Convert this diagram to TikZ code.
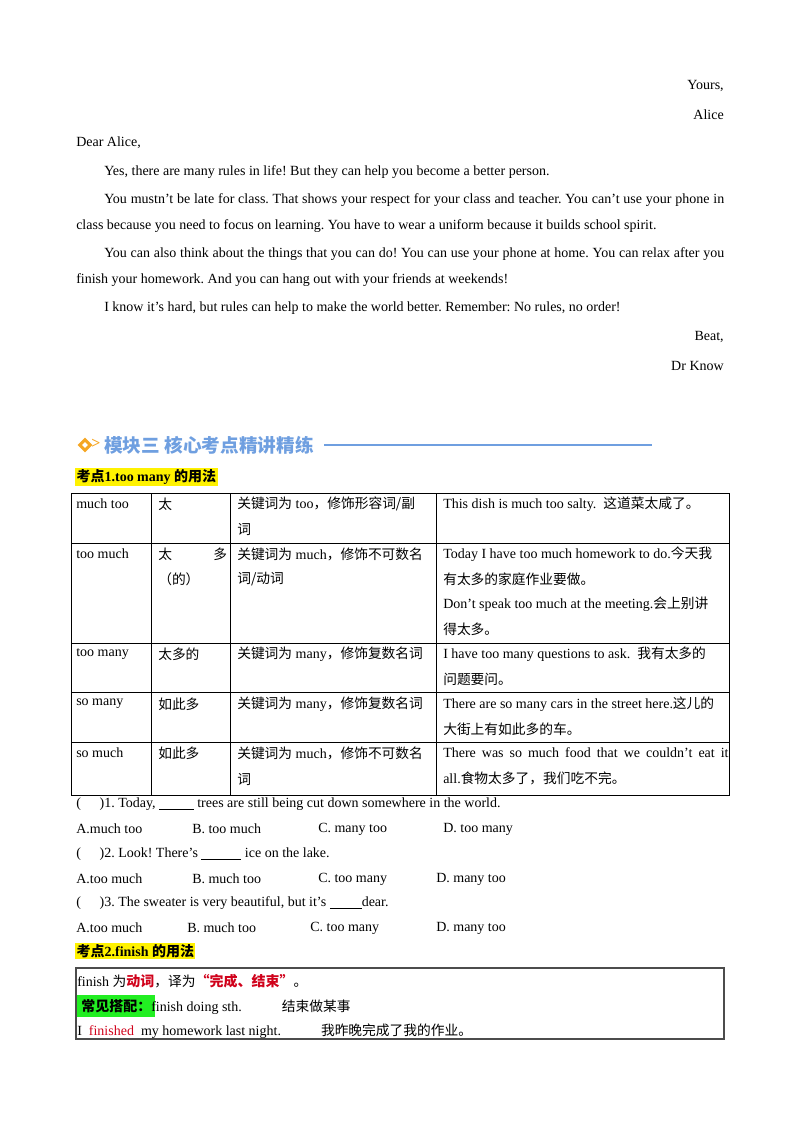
\documentclass[tikz,border=0pt]{standalone}
\usepackage{fontspec}
\usetikzlibrary{shapes.geometric}
\setmainfont{Liberation Serif}
\newfontfamily\cjk{Noto Sans CJK SC}
\newcommand{\C}[1]{{\cjk\fontsize{10.3pt}{11pt}\selectfont #1}}
\definecolor{hblue}{HTML}{6F9FE0}
\definecolor{horange}{HTML}{F5A623}
\definecolor{hred}{HTML}{D0021B}
\definecolor{hgreen}{HTML}{22EE22}
\frenchspacing
\begin{document}
\begin{tikzpicture}[x=0.75pt,y=-0.75pt,
  t/.style={anchor=west,inner sep=0pt,font=\fontsize{10.5pt}{12pt}\selectfont},
  te/.style={anchor=east,inner sep=0pt,font=\fontsize{10.5pt}{12pt}\selectfont},
  tc/.style={anchor=west,inner sep=0pt,font=\fontsize{10.5pt}{12pt}\selectfont},
  grid/.style={draw=black,line width=0.6pt},
  hl/.style={fill=yellow,inner sep=1pt,anchor=west,font=\fontsize{10.5pt}{12pt}\selectfont\bfseries}]
\useasboundingbox (0,0) rectangle (800,1132);
% letter
\node[te] (y1) at (724,86) {Yours,};
\node[te] (y2) at (724,115) {Alice};
\node[t] (d1) at (76,143) {Dear Alice,};
\node[t] (p1) at (104,172) {Yes, there are many rules in life! But they can help you become a better person.};
\node[t,text width=486pt,align=justify] (p2) at (76,213.5) {\baselineskip=19.5pt\frenchspacing\hspace*{21pt}You mustn’t be late for class. That shows your respect for your class and teacher. You can’t use your phone in class because you need to focus on learning. You have to wear a uniform because it builds school spirit.\par};
\node[t,text width=486pt,align=justify] (p3) at (76,267.5) {\baselineskip=19.5pt\frenchspacing\hspace*{21pt}You can also think about the things that you can do! You can use your phone at home. You can relax after you finish your homework. And you can hang out with your friends at weekends!\par};
\node[t] (p4) at (104,308) {I know it’s hard, but rules can help to make the world better. Remember: No rules, no order!};
\node[te] (b1) at (724,337) {Beat,};
\node[te] (b2) at (724,366) {Dr Know};
% header
\node[diamond,draw=horange,line width=2.2pt,inner sep=2.2pt] (dia) at (85,445) {};
\node[anchor=west,inner sep=0,text=horange,font=\fontsize{12pt}{12pt}\selectfont\bfseries] (chev) at (91,444) {\textgreater};
\node[anchor=west,inner sep=0,text=hblue,font=\cjk\bfseries\fontsize{14pt}{15pt}\selectfont] (ht) at (104,445) {模块三 核心考点精讲精练};
\coordinate (le) at (652,445);
\draw[hblue,line width=0.9pt] (ht.east)+(10,0) -- (le);
\node[hl] (k1) at (75,477) {\cjk 考点\rmfamily 1.too many \cjk 的用法};
% table
\draw[grid] (71,493) rectangle (729,795);
\foreach \yy in {543,643,692,742} \draw[grid] (71,\yy) -- (729,\yy);
\foreach \xx in {151,230,436} \draw[grid] (\xx,493) -- (\xx,795);
\node[tc] (r1a) at (76,504) {much too};
\node[tc] (r1b) at (158,504) {\C{太}};
\node[tc] (r1c) at (237,504) {\C{关键词为} too\C{，修饰形容词/副}};
\node[tc] (r1c2) at (237,529) {\C{词}};
\node[tc] (r1d) at (443,504) {This dish is much too salty.\ \ \C{这道菜太咸了。}};
\node[tc] (r2a) at (76,554) {too much};
\node[tc] (r2b) at (158,554) {\C{太}};
\node[tc] (r2b2) at (213,554) {\C{多}};
\node[tc] (r2b3) at (158,579) {\C{（的）}};
\node[tc] (r2c) at (237,554) {\C{关键词为} much\C{，修饰不可数名}};
\node[tc] (r2c2) at (237,579) {\C{词/动词}};
\node[tc] (r2d) at (443,554) {Today I have too much homework to do.\C{今天我}};
\node[tc] (r2d2) at (443,579) {\C{有太多的家庭作业要做。}};
\node[tc] (r2d3) at (443,604) {Don’t speak too much at the meeting.\C{会上别讲}};
\node[tc] (r2d4) at (443,629) {\C{得太多。}};
\node[tc] (r3a) at (76,654) {too many};
\node[tc] (r3b) at (158,654) {\C{太多的}};
\node[tc] (r3c) at (237,654) {\C{关键词为} many\C{，修饰复数名词}};
\node[tc] (r3d) at (443,654) {I have too many questions to ask.\ \ \C{我有太多的}};
\node[tc] (r3d2) at (443,679) {\C{问题要问。}};
\node[tc] (r4a) at (76,704) {so many};
\node[tc] (r4b) at (158,704) {\C{如此多}};
\node[tc] (r4c) at (237,704) {\C{关键词为} many\C{，修饰复数名词}};
\node[tc] (r4d) at (443,704) {There are so many cars in the street here.\C{这儿的}};
\node[tc] (r4d2) at (443,729) {\C{大街上有如此多的车。}};
\node[tc] (r5a) at (76,753) {so much};
\node[tc] (r5b) at (158,753) {\C{如此多}};
\node[tc] (r5c) at (237,753) {\C{关键词为} much\C{，修饰不可数名}};
\node[tc] (r5c2) at (237,779) {\C{词}};
\node[tc,text width=214pt,align=justify] (r5d) at (443,766) {\baselineskip=19.5pt There was so much food that we couldn’t eat it all.\C{食物太多了，我们吃不完。}\par};
% questions
\node[tc] (q1) at (76,804) {(\hspace{14pt})1. Today, \underline{\hspace{26pt}} trees are still being cut down somewhere in the world.};
\node[tc] (q1a) at (76,829) {A.much too};
\node[tc] (q1b) at (192,829) {B. too much};
\node[tc] (q1c) at (318,829) {C. many too};
\node[tc] (q1d) at (443,829) {D. too many};
\node[tc] (q2) at (76,854) {(\hspace{14pt})2. Look! There’s \underline{\hspace{30pt}} ice on the lake.};
\node[tc] (q2a) at (76,879) {A.too much};
\node[tc] (q2b) at (192,879) {B. much too};
\node[tc] (q2c) at (318,879) {C. too many};
\node[tc] (q2d) at (436,879) {D. many too};
\node[tc] (q3) at (76,903) {(\hspace{14pt})3. The sweater is very beautiful, but it’s \underline{\hspace{24pt}}dear.};
\node[tc] (q3a) at (76,928) {A.too much};
\node[tc] (q3b) at (187,928) {B. much too};
\node[tc] (q3c) at (310,928) {C. too many};
\node[tc] (q3d) at (436,928) {D. many too};
% kaodian 2
\node[hl] (k2) at (75,951) {\cjk 考点\rmfamily 2.finish \cjk 的用法};
\draw[draw=black!70,line width=0.9pt] (76,968) rectangle (724,1039);
\node[tc] (f1) at (77,981) {finish \C{为}{\cjk\bfseries\color{hred}动词}\C{，译为}{\cjk\bfseries\color{hred}“完成、结束”}\C{。}};
\node[tc] (f2) at (77,1006) {\colorbox{hgreen}{\cjk\bfseries 常见搭配：}\hspace{-3pt}finish doing sth.\hspace{30pt}\C{结束做某事}};
\node[tc] (f3) at (77,1031) {I\ \ {\color{hred}finished}\ \ my homework last night.\hspace{30pt}\C{我昨晚完成了我的作业。}};
\end{tikzpicture}
\end{document}
